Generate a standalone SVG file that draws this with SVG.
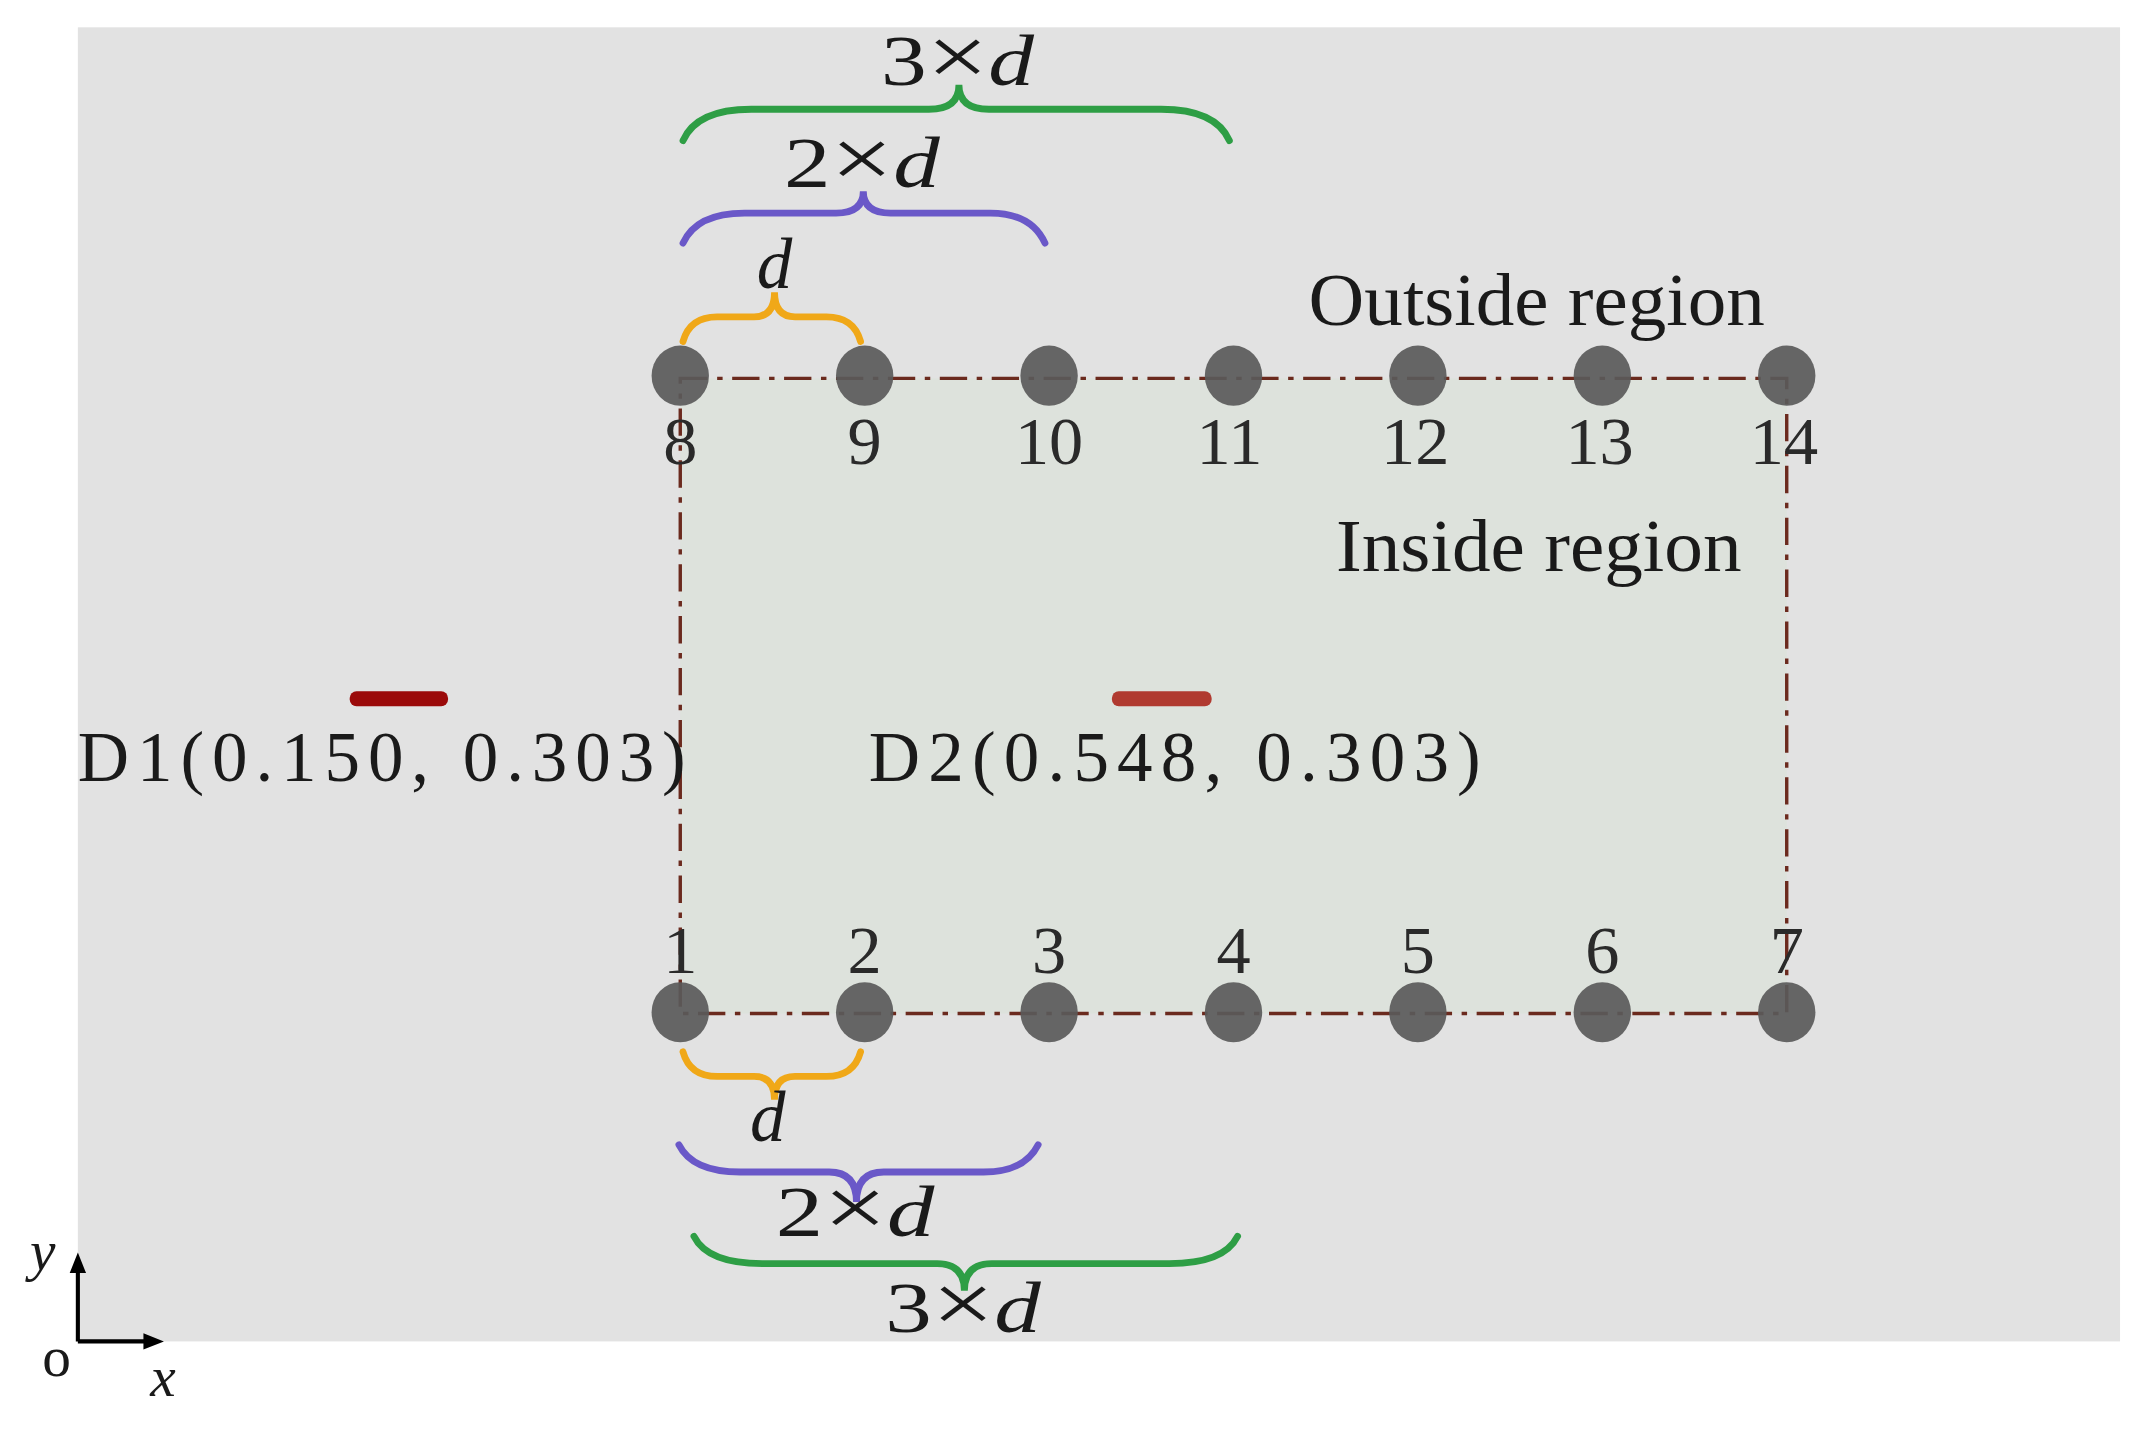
<svg xmlns="http://www.w3.org/2000/svg" width="2142" height="1430" viewBox="0 0 2142 1430">
<style>
.t{font-family:"Liberation Serif","Times New Roman",serif;fill:#1a1a1a}
.n{font-size:50px;text-anchor:middle;fill:#2a2a2a}
.i{font-style:italic}
.c{fill:#5a5a5a;fill-opacity:0.92}
.b{fill:none;stroke-width:5;stroke-linecap:round}
</style>
<rect width="2142" height="1430" fill="#fff"/>
<g transform="scale(1.366)">
<rect x="57" y="20" width="1495" height="962" fill="#e2e2e2"/>
<rect x="498" y="277" width="810" height="465" fill="#dde2dc"/>
<g id="connectors">
<rect x="498" y="277" width="810" height="465" fill="none" stroke="#6b2a1e" stroke-width="2.5" stroke-dasharray="20,7,4,7"/>
<path class="b" stroke="#2e9e45" d="M500,103 Q510,80 550,80 L680,80 Q702,80 702,62 Q702,80 724,80 L850,80 Q890,80 900,103"/>
<path class="b" stroke="#6a58c8" d="M500,178 Q510,156 545,156 L612,156 Q632,156 632,140 Q632,156 652,156 L725,156 Q755,156 765,178"/>
<path class="b" stroke="#f0a818" d="M500,250 Q505,232 525,232 L552,232 Q567,232 567,214 Q567,232 582,232 L605,232 Q625,232 630,250"/>
<path class="b" stroke="#f0a818" d="M500,770 Q505,788 525,788 L552,788 Q567,788 567,805 Q567,788 582,788 L605,788 Q625,788 630,770"/>
<path class="b" stroke="#6a58c8" d="M497,838 Q507,858 542,858 L607,858 Q627,858 627,880 Q627,858 647,858 L720,858 Q750,858 760,838"/>
<path class="b" stroke="#2e9e45" d="M508,905 Q518,925 558,925 L686,925 Q706,925 706,945 Q706,925 726,925 L856,925 Q896,925 906,905"/>
<path d="M57,982 V925 M57,982 H110" stroke="#000" stroke-width="3" fill="none"/>
<path d="M57,917 L51,932 L63,932 Z M120,982 L105,976 L105,988 Z" fill="#000"/>
</g>
<g id="top-nodes">
<ellipse class="c" cx="498" cy="275" rx="21" ry="22"/>
<ellipse class="c" cx="633" cy="275" rx="21" ry="22"/>
<ellipse class="c" cx="768" cy="275" rx="21" ry="22"/>
<ellipse class="c" cx="903" cy="275" rx="21" ry="22"/>
<ellipse class="c" cx="1038" cy="275" rx="21" ry="22"/>
<ellipse class="c" cx="1173" cy="275" rx="21" ry="22"/>
<ellipse class="c" cx="1308" cy="275" rx="21" ry="22"/>
<text class="t n" x="498" y="340">8</text>
<text class="t n" x="633" y="340">9</text>
<text class="t n" x="768" y="340">10</text>
<text class="t n" x="900" y="340">11</text>
<text class="t n" x="1036" y="340">12</text>
<text class="t n" x="1171" y="340">13</text>
<text class="t n" x="1306" y="340">14</text>
</g>
<g id="bottom-nodes">
<ellipse class="c" cx="498" cy="741" rx="21" ry="22"/>
<ellipse class="c" cx="633" cy="741" rx="21" ry="22"/>
<ellipse class="c" cx="768" cy="741" rx="21" ry="22"/>
<ellipse class="c" cx="903" cy="741" rx="21" ry="22"/>
<ellipse class="c" cx="1038" cy="741" rx="21" ry="22"/>
<ellipse class="c" cx="1173" cy="741" rx="21" ry="22"/>
<ellipse class="c" cx="1308" cy="741" rx="21" ry="22"/>
<text class="t n" x="498" y="712">1</text>
<text class="t n" x="633" y="712">2</text>
<text class="t n" x="768" y="712">3</text>
<text class="t n" x="903" y="712">4</text>
<text class="t n" x="1038" y="712">5</text>
<text class="t n" x="1173" y="712">6</text>
<text class="t n" x="1308" y="712">7</text>
</g>
<g id="labels">
<text class="t" x="958" y="238" font-size="54" textLength="334" lengthAdjust="spacingAndGlyphs">Outside region</text>
<text class="t" x="978" y="418" font-size="54" textLength="297" lengthAdjust="spacingAndGlyphs">Inside region</text>
<text class="t" x="645" y="62" font-size="52" textLength="112" lengthAdjust="spacingAndGlyphs">3<tspan font-size="62">×</tspan><tspan class="i">d</tspan></text>
<text class="t" x="574" y="137" font-size="52" textLength="114" lengthAdjust="spacingAndGlyphs">2<tspan font-size="62">×</tspan><tspan class="i">d</tspan></text>
<text class="t i" x="567" y="211" font-size="52" text-anchor="middle">d</text>
<text class="t i" x="562" y="835" font-size="52" text-anchor="middle">d</text>
<text class="t" x="568" y="905" font-size="52" textLength="116" lengthAdjust="spacingAndGlyphs">2<tspan font-size="62">×</tspan><tspan class="i">d</tspan></text>
<text class="t" x="648" y="975" font-size="52" textLength="114" lengthAdjust="spacingAndGlyphs">3<tspan font-size="62">×</tspan><tspan class="i">d</tspan></text>
<text class="t i" x="22" y="930" font-size="42">y</text>
<text class="t" x="31" y="1007" font-size="42">o</text>
<text class="t i" x="110" y="1022" font-size="42">x</text>
</g>
<g id="D1">
<rect x="256" y="506" width="72" height="11" rx="5" fill="#9b0a0a"/>
<text class="t" x="57" y="572" font-size="52" textLength="445" lengthAdjust="spacing">D1(0.150,  0.303)</text>
</g>
<g id="D2">
<rect x="814" y="506" width="73" height="11" rx="5" fill="#b03a30"/>
<text class="t" x="636" y="572" font-size="52" textLength="448" lengthAdjust="spacing" fill="#333">D2(0.548,  0.303)</text>
</g>
</g>
</svg>
